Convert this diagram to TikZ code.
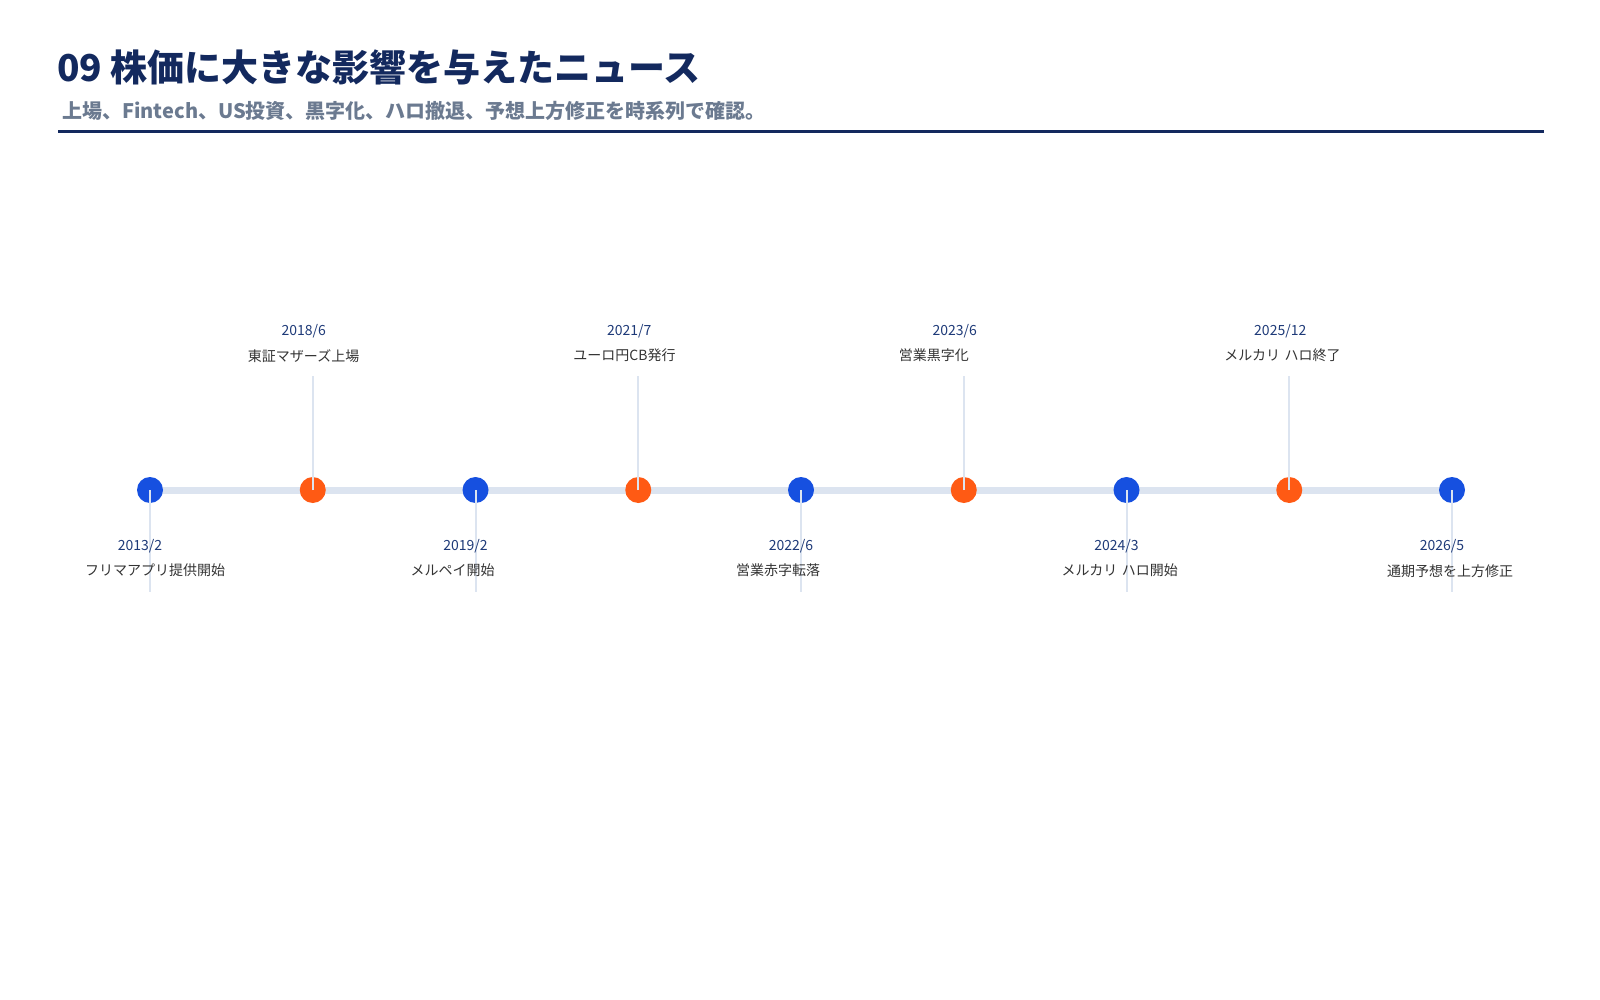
\documentclass[tikz,border=0pt]{standalone}
\usepackage{fontspec}
\newfontfamily\jp{Noto Sans CJK JP}
\newfontfamily\jpb{Noto Sans CJK JP}[FakeBold=0]
\setmainfont{Noto Sans CJK JP}
\definecolor{navy}{HTML}{13295E}
\definecolor{sub}{HTML}{6B7A90}
\definecolor{dblue}{HTML}{1E3A78}
\definecolor{evblue}{HTML}{1650E0}
\definecolor{evorange}{HTML}{FF5A14}
\definecolor{track}{HTML}{DCE4F0}
\definecolor{txt}{HTML}{333333}
\tikzset{
  dot/.style={circle,inner sep=0pt,minimum size=26pt},
  datel/.style={text=dblue,font=\fontsize{14}{16}\selectfont,inner sep=0pt},
  evl/.style={text=txt,font=\fontsize{14}{20}\selectfont,inner sep=0pt,anchor=north west,align=left,text width=125pt},
  stem/.style={draw=track,line width=2pt}
}
\begin{document}
\begin{tikzpicture}[x=1pt,y=-1pt]
\useasboundingbox (0,0) rectangle (1600,1000);
\node[anchor=base west,inner sep=0pt,text=navy,font=\fontsize{37}{40}\selectfont\bfseries] (title) at (57,82) {09 株価に大きな影響を与えたニュース};
\node[anchor=base west,inner sep=0pt,text=sub,font=\fontsize{20}{22}\selectfont\bfseries] (subt) at (62,119) {上場、Fintech、US投資、黒字化、ハロ撤退、予想上方修正を時系列で確認。};
\draw[navy,line width=3pt] (58,132) -- (1544,132);
\coordinate (L) at (150,490);
\coordinate (R) at (1452,490);
\draw[track,line width=7pt] (L) -- (R);
\foreach \i/\d/\t/\c/\up in {0/2013\slash2/{フリマアプリ提供開始}/evblue/0,
 1/2018\slash6/{東証マザーズ上場}/evorange/1,
 2/2019\slash2/{メルペイ開始}/evblue/0,
 3/2021\slash7/{ユーロ円CB発行}/evorange/1,
 4/2022\slash6/{営業赤字転落}/evblue/0,
 5/2023\slash6/{営業黒字化}/evorange/1,
 6/2024\slash3/{メルカリ ハロ開始}/evblue/0,
 7/2025\slash12/{メルカリ ハロ終了}/evorange/1,
 8/2026\slash5/{通期予想を上方修正}/evblue/0}{
  \pgfmathsetmacro{\xx}{150+\i*162.75}
  \node[dot,fill=\c] (d\i) at (\xx,490) {};
  \ifnum\up=1
    \coordinate (s\i) at (\xx,376);
    \draw[stem] (d\i.center) -- (s\i);
    \node[datel] (t\i) at (\xx-9,331) {\d};
    \node[evl] (e\i) at (\xx-65,349) {\t};
  \else
    \coordinate (s\i) at (\xx,592);
    \draw[stem] (d\i.center) -- (s\i);
    \node[datel] (t\i) at (\xx-10,546) {\d};
    \node[evl] (e\i) at (\xx-65,564) {\t};
  \fi
}
\end{tikzpicture}
\end{document}
